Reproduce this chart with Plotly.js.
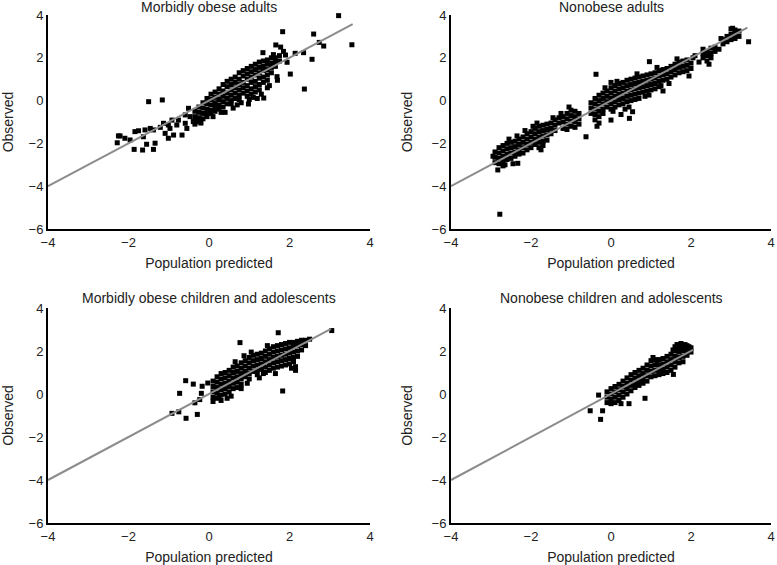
<!DOCTYPE html>
<html>
<head>
<meta charset="utf-8">
<script src="https://cdn.plot.ly/plotly-3.0.1.min.js"></script>
<style>html,body{margin:0;padding:0;background:#fff;}#chart{width:777px;height:565px;}</style>
</head>
<body>
<div id="chart"></div>
<script>
// Panel titles
const panelTitles = ["Morbidly obese adults", "Nonobese adults", "Morbidly obese children and adolescents", "Nonobese children and adolescents"];
const xTitle = "Population predicted";
const yTitle = "Observed";
const xTicks = [-4, -2, 0, 2, 4];
const yTicks = [-6, -4, -2, 0, 2, 4];

// Morbidly obese adults (top-left)
const tlX = [3.22,3.55,2.60,1.83,2.74,2.85,2.56,2.37,2.02,2.35,2.14,1.94,1.66,1.90,1.34,-1.50,-1.16,
 -2.21,-2.28,-2.09,-1.96,-1.84,-1.75,-1.86,-1.65,-1.38,-1.55,-1.34,-1.63,-1.46,-1.38,-1.21,-1.13,-1.01,-1.09,-1.01,-0.88,-0.97,-0.80,-0.76,-0.67,-0.59,-0.55,-0.59,-0.47,-0.39,-0.51,-0.92,-2.25,-1.59,
 -0.35,-0.35,-0.35,-0.35,-0.25,-0.25,-0.25,-0.25,-0.15,-0.15,-0.15,-0.15,-0.05,-0.05,-0.05,-0.05,-0.05,
 0.05,0.05,0.05,0.05,0.05,0.15,0.15,0.15,0.15,0.15,0.25,0.25,0.25,0.25,0.25,0.35,0.35,0.35,0.35,0.35,
 0.45,0.45,0.45,0.45,0.45,0.55,0.55,0.55,0.55,0.55,0.55,0.65,0.65,0.65,0.65,0.65,
 0.75,0.75,0.75,0.75,0.75,0.75,0.85,0.85,0.85,0.85,0.85,0.95,0.95,0.95,0.95,0.95,0.95,
 1.05,1.05,1.05,1.05,1.05,1.05,1.15,1.15,1.15,1.15,1.15,1.15,1.25,1.25,1.25,1.25,1.25,1.25,
 1.35,1.35,1.35,1.35,1.35,1.45,1.45,1.45,1.45,1.45,1.55,1.55,1.55,1.55,1.65,1.65,1.65,1.75,1.75,
 0.98,1.69,1.36,1.20,1.45,1.70,0.60,1.78,1.85,1.60,0.30,0.80,1.10,0.10,-0.20,0.40,0.70,1.00,1.30,1.50];
const tlY = [3.97,2.61,3.11,3.22,2.72,2.55,1.93,0.54,1.24,2.24,2.21,1.79,2.60,2.13,2.24,-0.05,0.03,
 -1.65,-1.97,-1.76,-1.84,-1.45,-1.41,-2.28,-2.31,-2.28,-2.04,-1.99,-1.69,-1.30,-1.37,-1.25,-1.06,-1.14,-1.53,-1.76,-1.61,-1.30,-1.14,-0.91,-1.61,-1.06,-1.30,-0.67,-0.75,-0.98,-0.36,-0.91,-1.65,-1.37,
 -0.50,-0.75,-0.95,-1.10,-0.30,-0.55,-0.80,-1.00,-0.10,-0.35,-0.60,-0.85,0.10,-0.15,-0.40,-0.60,-0.75,
 0.30,0.05,-0.20,-0.45,-0.60,0.40,0.15,-0.10,-0.30,-0.50,0.55,0.30,0.05,-0.20,-0.40,0.75,0.45,0.20,-0.05,-0.30,
 0.90,0.65,0.35,0.10,-0.15,1.00,0.75,0.50,0.25,0.00,-0.15,1.10,0.85,0.60,0.35,0.10,
 1.30,1.00,0.75,0.50,0.25,0.05,1.40,1.15,0.85,0.60,0.35,1.50,1.25,1.00,0.70,0.45,0.20,
 1.60,1.35,1.10,0.85,0.55,0.30,1.70,1.45,1.20,0.90,0.65,0.40,1.80,1.55,1.30,1.05,0.75,0.50,
 1.85,1.60,1.40,1.10,0.85,1.90,1.70,1.45,1.20,0.95,2.00,1.75,1.55,1.30,2.00,1.80,1.60,2.10,1.85,
 -0.16,1.12,0.12,0.10,0.60,0.95,-0.35,2.50,2.30,2.15,-0.55,-0.10,0.15,-0.75,-1.05,-0.55,-0.20,0.05,0.30,0.70];

// Nonobese adults (top-right)
const trX = [-2.78,3.44,3.04,0.96,-0.375,-0.625,0.54,0.46,0.00,-2.33,-2.83,
 -2.9,-2.9,-2.9,-2.8,-2.8,-2.8,-2.8,-2.7,-2.7,-2.7,-2.7,-2.7,-2.6,-2.6,-2.6,-2.6,-2.5,-2.5,-2.5,-2.5,
 -2.4,-2.4,-2.4,-2.4,-2.3,-2.3,-2.3,-2.3,-2.2,-2.2,-2.2,-2.2,-2.1,-2.1,-2.1,-2.1,-2.0,-2.0,-2.0,-2.0,
 -1.9,-1.9,-1.9,-1.9,-1.8,-1.8,-1.8,-1.8,-1.8,-1.7,-1.7,-1.7,-1.7,-1.7,-1.6,-1.6,-1.6,-1.6,
 -1.5,-1.5,-1.5,-1.4,-1.4,-1.4,-1.3,-1.3,-1.2,-1.2,-1.2,-1.1,-1.1,-1.1,-1.1,-1.0,-1.0,-1.0,-1.0,
 -0.9,-0.9,-0.9,-0.9,-0.8,-0.8,-0.8,-0.5,-0.5,-0.5,-0.4,-0.4,-0.4,-0.4,-0.4,
 -0.3,-0.3,-0.3,-0.3,-0.3,-0.3,-0.2,-0.2,-0.2,-0.2,-0.2,-0.1,-0.1,-0.1,-0.1,
 0.0,0.0,0.0,0.0,0.0,0.0,0.1,0.1,0.1,0.1,0.1,0.2,0.2,0.2,0.2,0.2,0.3,0.3,0.3,0.3,0.3,
 0.4,0.4,0.4,0.4,0.4,0.5,0.5,0.5,0.5,0.5,0.6,0.6,0.6,0.6,0.6,0.7,0.7,0.7,0.7,0.7,
 0.8,0.8,0.8,0.8,0.9,0.9,0.9,0.9,1.0,1.0,1.0,1.0,1.1,1.1,1.1,1.1,1.2,1.2,1.2,1.2,
 1.3,1.3,1.3,1.3,1.4,1.4,1.4,1.5,1.5,1.5,1.6,1.6,1.6,1.7,1.7,1.7,1.8,1.8,1.8,1.9,1.9,1.9,
 2.0,2.0,2.1,2.3,2.3,2.3,2.4,2.4,2.4,2.5,2.5,2.5,2.6,2.6,2.8,2.8,2.9,2.9,3.0,3.0,3.0,3.1,3.1,3.1,3.2,3.2,
 0.05,0.25,0.35,0.95,1.25,2.2,2.7,-2.95,-2.65,-2.45,-1.75,-0.35,
 -2.55,-2.15,-1.85,-1.45,-1.05,-0.15,0.15,0.65,1.15,1.65,2.05,2.75,-2.35,-1.95,-1.25,0.45,0.85,1.45,1.95,2.45];
const trY = [-5.31,2.75,3.38,1.82,1.23,-1.69,-0.52,-0.83,-0.91,-2.93,-3.24,
 -2.40,-2.65,-2.90,-2.20,-2.45,-2.70,-2.95,-2.10,-2.35,-2.60,-2.85,-3.05,-2.00,-2.25,-2.50,-2.75,-1.95,-2.20,-2.45,-2.70,
 -1.90,-2.15,-2.40,-2.60,-1.80,-2.05,-2.30,-2.50,-1.70,-1.95,-2.20,-2.45,-1.55,-1.80,-2.05,-2.30,-1.45,-1.70,-1.95,-2.20,
 -1.30,-1.55,-1.80,-2.05,-1.20,-1.45,-1.70,-1.95,-2.20,-1.15,-1.40,-1.65,-1.90,-2.10,-1.10,-1.35,-1.60,-1.85,
 -1.05,-1.30,-1.55,-0.90,-1.15,-1.40,-0.80,-1.05,-0.75,-1.00,-1.30,-0.60,-0.85,-1.10,-1.35,-0.45,-0.70,-0.95,-1.20,
 -0.50,-0.75,-1.00,-1.25,-0.60,-0.85,-1.10,-0.10,-0.35,-0.60,0.10,-0.15,-0.40,-0.65,-0.90,
 0.25,0.00,-0.25,-0.50,-0.75,-1.05,0.35,0.10,-0.15,-0.40,-0.60,0.45,0.20,-0.05,-0.30,
 0.85,0.60,0.35,0.10,-0.15,-0.40,0.70,0.45,0.20,-0.05,-0.30,0.80,0.55,0.30,0.05,-0.20,0.85,0.60,0.35,0.10,-0.15,
 0.95,0.70,0.45,0.20,-0.05,1.00,0.75,0.50,0.25,0.00,1.05,0.80,0.55,0.30,0.05,1.10,0.85,0.60,0.35,0.10,
 1.15,0.90,0.65,0.40,1.20,0.95,0.70,0.45,1.25,1.00,0.75,0.50,1.30,1.05,0.80,0.55,1.40,1.15,0.90,0.65,
 1.45,1.20,0.95,0.45,1.50,1.25,1.00,1.60,1.35,1.10,1.70,1.45,1.20,1.80,1.55,1.30,1.85,1.60,1.35,1.90,1.65,1.40,
 1.75,1.50,2.10,2.40,2.20,2.00,2.30,2.10,1.85,2.45,2.20,2.00,2.50,2.30,2.85,2.65,3.00,2.75,3.35,3.10,2.85,3.30,3.10,2.90,3.25,3.00,
 -0.50,-0.65,-0.40,0.26,0.70,1.80,2.40,-2.60,-3.00,-2.95,-2.30,-1.20,
 -1.80,-1.40,-1.05,-0.80,-0.30,0.60,0.90,1.25,1.55,1.95,2.00,2.90,-1.65,-1.20,-0.60,-0.30,0.20,0.80,1.15,1.70];

// Morbidly obese children and adolescents (bottom-left)
const blX = [3.05,1.72,0.77,0.87,1.83,-0.29,-0.92,-0.75,-0.73,-0.58,-0.57,-0.39,-0.35,-0.23,-0.17,-0.03,-0.19,2.15,
 0.1,0.1,0.1,0.1,0.1,0.2,0.2,0.2,0.2,0.2,0.3,0.3,0.3,0.3,0.3,0.3,0.4,0.4,0.4,0.4,0.4,0.5,0.5,0.5,0.5,0.5,
 0.6,0.6,0.6,0.6,0.6,0.7,0.7,0.7,0.7,0.7,0.8,0.8,0.8,0.8,0.8,0.8,0.9,0.9,0.9,0.9,1.0,1.0,1.0,1.0,1.0,
 1.1,1.1,1.1,1.1,1.2,1.2,1.2,1.2,1.2,1.3,1.3,1.3,1.3,1.4,1.4,1.4,1.4,1.4,1.5,1.5,1.5,1.5,1.5,
 1.6,1.6,1.6,1.6,1.6,1.7,1.7,1.7,1.7,1.7,1.8,1.8,1.8,1.8,1.8,1.9,1.9,1.9,1.9,1.9,2.0,2.0,2.0,2.0,2.0,
 2.1,2.1,2.1,2.1,2.1,2.2,2.2,2.2,2.2,2.3,2.3,2.3,2.4,2.4,2.5,
 0.25,0.55,0.95,1.25,1.65,2.05,2.15,0.45,1.05,1.45,0.65,1.35];
const blY = [2.95,2.85,2.39,1.78,0.14,-0.95,-0.90,-0.83,0.03,0.62,-1.13,0.46,-0.41,-0.26,0.36,0.51,0.03,1.27,
 0.60,0.35,0.10,-0.15,-0.35,0.80,0.55,0.30,0.05,-0.20,0.95,0.70,0.45,0.20,-0.05,-0.30,1.00,0.75,0.50,0.25,0.00,1.10,0.85,0.60,0.35,0.10,
 1.25,1.00,0.75,0.50,0.25,1.30,1.05,0.80,0.55,0.30,1.45,1.20,0.95,0.70,0.45,0.25,1.55,1.30,1.05,0.80,1.70,1.45,1.20,0.95,0.70,
 1.80,1.55,1.30,1.05,1.85,1.60,1.35,1.10,0.90,1.90,1.65,1.40,1.15,2.00,1.75,1.50,1.25,1.00,2.10,1.85,1.60,1.35,1.10,
 2.20,1.95,1.70,1.45,1.20,2.25,2.00,1.75,1.50,1.25,2.30,2.05,1.80,1.55,1.30,2.35,2.10,1.85,1.60,1.35,2.40,2.15,1.90,1.65,1.40,
 2.40,2.20,1.95,1.70,1.50,2.45,2.25,2.00,1.75,2.50,2.30,2.05,2.50,2.25,2.55,
 -0.10,-0.10,0.50,0.75,0.95,1.20,1.10,-0.20,1.95,2.25,1.50,0.95];

// Nonobese children and adolescents (bottom-right)
const brX = [-0.52,-0.26,-0.21,-0.31,0.85,1.56,0.45,0.25,
 -0.1,-0.1,-0.1,0.0,0.0,0.0,0.0,0.1,0.1,0.1,0.1,0.2,0.2,0.2,0.2,0.3,0.3,0.3,0.3,0.4,0.4,0.4,0.4,
 0.5,0.5,0.5,0.5,0.6,0.6,0.6,0.6,0.7,0.7,0.7,0.7,0.8,0.8,0.8,0.8,0.9,0.9,0.9,0.9,1.0,1.0,1.0,1.0,
 1.1,1.1,1.1,1.1,1.2,1.2,1.2,1.2,1.3,1.3,1.3,1.3,1.4,1.4,1.4,1.4,1.5,1.5,1.5,1.5,
 1.6,1.6,1.6,1.6,1.7,1.7,1.7,1.7,1.8,1.8,1.8,1.8,1.9,1.9,1.9,2.0,2.0,
 1.65,1.75,1.85,1.95,1.70,1.80,1.90,1.60,1.55,1.05,1.15];
const brY = [-0.78,-1.18,-0.78,-0.05,-0.20,0.91,-0.45,-0.45,
 0.10,-0.15,-0.40,0.25,0.00,-0.25,-0.45,0.35,0.10,-0.15,-0.40,0.45,0.20,-0.05,-0.30,0.60,0.35,0.10,-0.15,0.75,0.50,0.25,0.00,
 0.90,0.65,0.40,0.15,1.00,0.75,0.50,0.30,1.10,0.85,0.60,0.40,1.20,0.95,0.70,0.50,1.35,1.10,0.85,0.60,1.55,1.30,1.05,0.80,
 1.60,1.35,1.10,0.85,1.60,1.35,1.10,0.90,1.65,1.40,1.15,0.95,1.75,1.50,1.25,1.00,1.85,1.60,1.35,1.10,
 2.00,1.75,1.50,1.25,2.20,1.95,1.70,1.45,2.25,2.00,1.75,1.50,2.25,2.00,1.80,2.15,1.95,
 2.30,2.35,2.30,2.20,2.10,2.15,2.10,2.20,2.05,1.70,1.45];

// Identity reference lines (start, end) for each panel
const tlLineX = [-4, 3.57], tlLineY = [-4, 3.57];
const trLineX = [-4, 3.41], trLineY = [-4, 3.41];
const blLineX = [-4, 3.03], blLineY = [-4, 3.03];
const brLineX = [-4, 2.05], brLineY = [-4, 2.05];

const panels = [
  {x: tlX, y: tlY, lx: tlLineX, ly: tlLineY},
  {x: trX, y: trY, lx: trLineX, ly: trLineY},
  {x: blX, y: blY, lx: blLineX, ly: blLineY},
  {x: brX, y: brY, lx: brLineX, ly: brLineY}
];

const W = 777, H = 565;
// pixel boxes of each plot area: [left, right, top, bottom]
const boxes = [[48, 370, 15, 229], [451, 771, 15, 229], [48, 370, 308, 523], [451, 771, 308, 523]];
const titleY = [7, 7, 298, 298];

const fam = '"Liberation Sans", Arial, Helvetica, sans-serif';
const tickFont = {family: fam, size: 13, color: '#222'};
const titleFont = {family: fam, size: 14, color: '#222'};
const traces = [];
const layout = {
  width: W, height: H,
  margin: {l: 0, r: 0, t: 0, b: 0},
  paper_bgcolor: '#fff', plot_bgcolor: '#fff',
  showlegend: false,
  font: tickFont,
  annotations: []
};

panels.forEach((p, i) => {
  const n = i === 0 ? '' : String(i + 1);
  const xa = 'x' + n, ya = 'y' + n;
  traces.push({x: p.x, y: p.y, xaxis: xa, yaxis: ya, type: 'scatter', mode: 'markers',
    marker: {symbol: 'square', size: 5, color: '#000'}, cliponaxis: false, hoverinfo: 'x+y'});
  traces.push({x: p.lx, y: p.ly, xaxis: xa, yaxis: ya, type: 'scatter', mode: 'lines',
    line: {color: '#8c8c8c', width: 2}, cliponaxis: false, hoverinfo: 'skip'});
  const b = boxes[i];
  const common = {showgrid: false, zeroline: false, showline: true, linecolor: '#000', linewidth: 2,
    ticks: '', tickfont: tickFont, fixedrange: true};
  layout['xaxis' + n] = Object.assign({}, common, {
    domain: [b[0] / W, b[1] / W], range: [-4, 4], tickvals: xTicks, anchor: ya,
    title: {text: xTitle, font: titleFont, standoff: 10}
  });
  layout['yaxis' + n] = Object.assign({}, common, {
    domain: [1 - b[3] / H, 1 - b[2] / H], range: [-6, 4], tickvals: yTicks, anchor: xa,
    title: {text: yTitle, font: titleFont}
  });
  layout.annotations.push({text: panelTitles[i], xref: 'paper', yref: 'paper',
    x: (b[0] + b[1]) / 2 / W, y: 1 - titleY[i] / H, xanchor: 'center', yanchor: 'middle',
    showarrow: false, font: titleFont});
});

Plotly.newPlot('chart', traces, layout, {displayModeBar: false, staticPlot: true});
</script>
</body>
</html>
